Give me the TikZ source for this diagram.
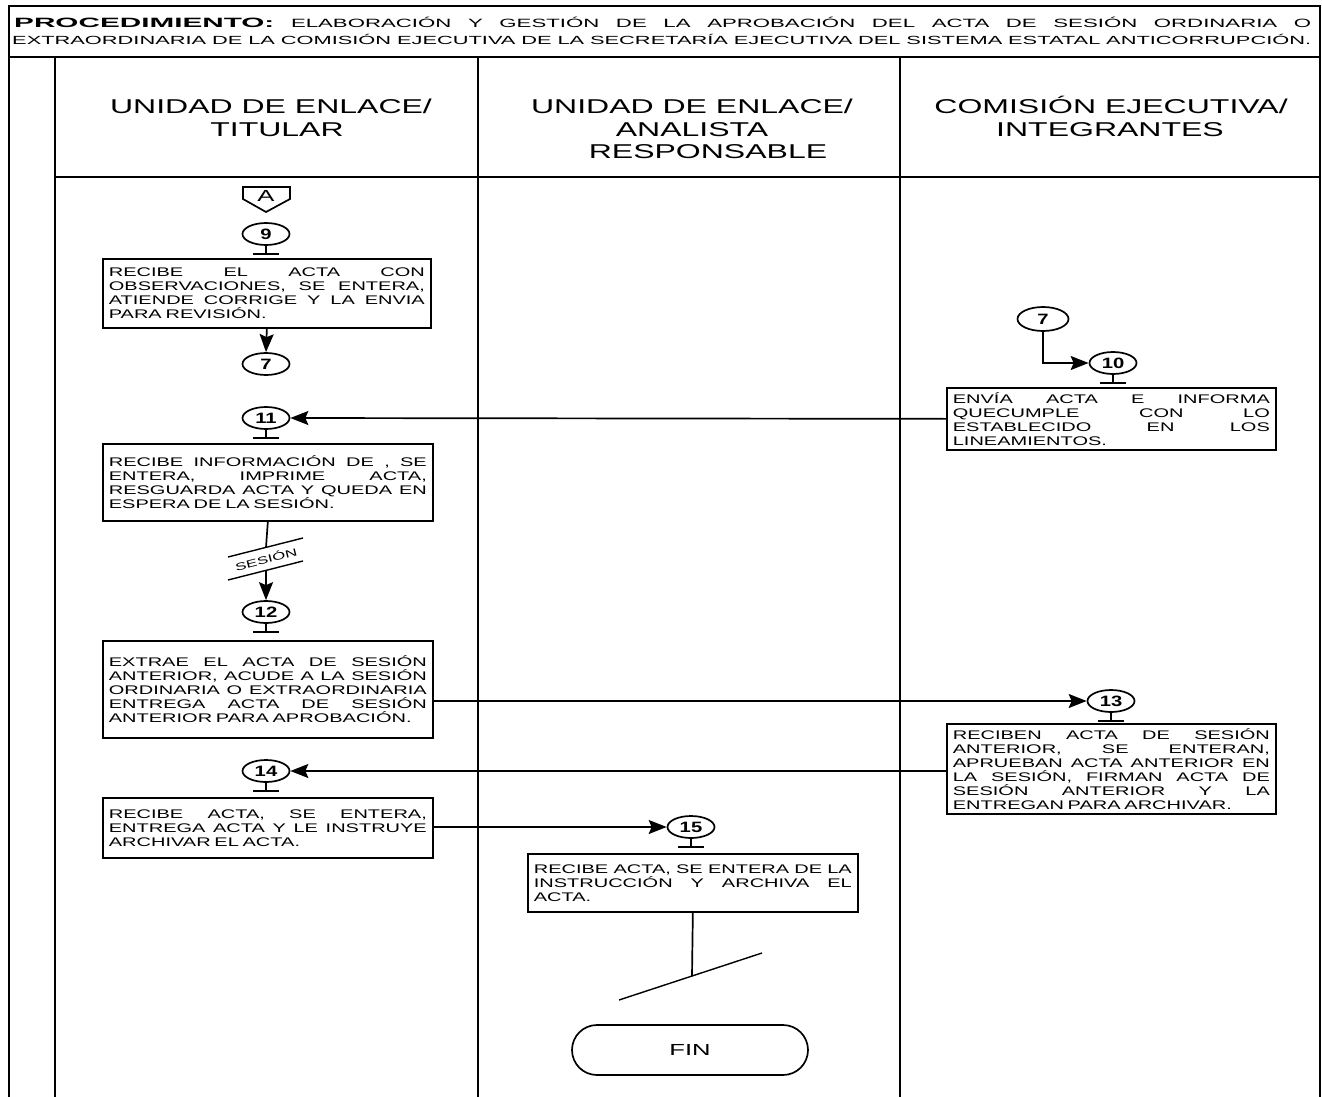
\documentclass[tikz,border=0pt]{standalone}
\usepackage{fontspec}
\setmainfont{Liberation Sans}
\newfontfamily\bxf[FakeStretch=1.6]{Liberation Sans}
\newfontfamily\cnf[FakeStretch=1.35]{Liberation Sans Bold}
\newfontfamily\ttlf[FakeStretch=1.85]{Liberation Sans}
\newfontfamily\ttlbf[FakeStretch=2.2]{Liberation Sans Bold}
\newfontfamily\hdrf[FakeStretch=1.6]{Liberation Sans}
\usetikzlibrary{shapes.geometric,arrows.meta}
\newcommand\jl[1]{\makebox[\linewidth][s]{#1}\\}
\newcommand\pbx[3]{\parbox[c][#2pt][c]{#1pt}{\fontsize{12.5}{14}\selectfont\bxf\spaceskip=.3em plus 20em minus .1em\relax #3}}
\tikzset{
  frameln/.style={line width=1.9pt},
  plain/.style={line width=1.7pt},
  conn/.style={line width=1.7pt,-{Stealth[length=18pt,width=14pt,inset=3pt]}},
  boxst/.style={draw,line width=1.7pt,inner xsep=6pt,inner ysep=0pt,anchor=north west},
  circ/.style={draw,ellipse,line width=1.7pt,minimum width=47pt,minimum height=22pt,inner sep=0pt,font=\fontsize{15}{15}\selectfont\cnf},
  hdr/.style={anchor=base,inner sep=0pt,font=\fontsize{20}{22}\selectfont\hdrf},
  tmark/.style={line width=1.7pt}
}
\newcommand\tmk[1]{\draw[tmark] (#1.south) -- ++(0,8) ++(-13,0) -- ++(26,0);}
\begin{document}
\begin{tikzpicture}[x=1pt,y=-1pt]
\useasboundingbox (0,0) rectangle (1322,1097);
\fill[white] (0,0) rectangle (1322,1097);
% frame
\draw[frameln] (9,1097) -- (9,6) -- (1320,6) -- (1320,1097);
\draw[frameln] (9,57) -- (1320,57);
\draw[frameln] (55,57) -- (55,1097);
\draw[frameln] (478,57) -- (478,1097);
\draw[frameln] (900,57) -- (900,1097);
\draw[frameln] (55,177) -- (1320,177);
% title
\node[anchor=base west,inner sep=0pt,font=\fontsize{12}{14}\selectfont\ttlf] (t1) at (14,28)
  {\makebox[1297pt][s]{{\fontsize{13.5}{14}\selectfont\ttlbf PROCEDIMIENTO:} ELABORACIÓN Y GESTIÓN DE LA APROBACIÓN DEL ACTA DE SESIÓN ORDINARIA O}};
\node[anchor=base west,inner sep=0pt,font=\fontsize{11.8}{14}\selectfont\ttlf] (t2) at (12,45)
  {\makebox[1299pt][s]{EXTRAORDINARIA DE LA COMISIÓN EJECUTIVA DE LA SECRETARÍA EJECUTIVA DEL SISTEMA ESTATAL ANTICORRUPCIÓN.}};
% headers
\node[hdr] (h1a) at (271,114) {UNIDAD DE ENLACE/};
\node[hdr] (h1b) at (277,136) {TITULAR};
\node[hdr] (h2a) at (692,114) {UNIDAD DE ENLACE/};
\node[hdr] (h2b) at (692,136) {ANALISTA};
\node[hdr] (h2c) at (708,158) {RESPONSABLE};
\node[hdr] (h3a) at (1111,114) {COMISIÓN EJECUTIVA/};
\node[hdr] (h3b) at (1110,136) {INTEGRANTES};
% off-page connector A
\draw[plain] (243,187) -- (290,187) -- (290,199) -- (266,212) -- (243,199) -- cycle;
\node[inner sep=0pt,font=\fontsize{16}{16}\selectfont\bxf] (offA) at (266,196) {A};
% circles
\node[circ] (c9) at (266,234) {9};
\node[circ] (c7a) at (266,364) {7};
\node[circ,minimum width=51pt,minimum height=24pt] (c7b) at (1043,319) {7};
\node[circ] (c10) at (1113,363) {10};
\node[circ] (c11) at (266,418) {11};
\node[circ] (c12) at (266,612) {12};
\node[circ] (c13) at (1111,701) {13};
\node[circ] (c14) at (266,771) {14};
\node[circ] (c15) at (691,827) {15};
\tmk{c9}\tmk{c10}\tmk{c11}\tmk{c12}\tmk{c13}\tmk{c14}\tmk{c15}
% boxes
\node[boxst] (b9) at (102,258) {\pbx{316}{69}{\jl{RECIBE EL ACTA CON}\jl{OBSERVACIONES, SE ENTERA,}\jl{ATIENDE CORRIGE Y LA ENVIA}PARA REVISIÓN.}};
\node[boxst] (b10) at (946,387) {\pbx{317}{62}{\jl{ENVÍA ACTA E INFORMA}\jl{QUECUMPLE CON LO}\jl{ESTABLECIDO EN LOS}LINEAMIENTOS.}};
\node[boxst] (b11) at (102,443) {\pbx{318}{77}{\jl{RECIBE INFORMACIÓN DE , SE}\jl{ENTERA, IMPRIME ACTA,}\jl{RESGUARDA ACTA Y QUEDA EN}ESPERA DE LA SESIÓN.}};
\node[boxst] (b12) at (102,640) {\pbx{318}{97}{\jl{EXTRAE EL ACTA DE SESIÓN}\jl{ANTERIOR, ACUDE A LA SESIÓN}\jl{ORDINARIA O EXTRAORDINARIA}\jl{ENTREGA ACTA DE SESIÓN}ANTERIOR PARA APROBACIÓN.}};
\node[boxst] (b13) at (946,723) {\pbx{317}{90}{\jl{RECIBEN ACTA DE SESIÓN}\jl{ANTERIOR, SE ENTERAN,}\jl{APRUEBAN ACTA ANTERIOR EN}\jl{LA SESIÓN, FIRMAN ACTA DE}\jl{SESIÓN ANTERIOR Y LA}ENTREGAN PARA ARCHIVAR.}};
\node[boxst] (b14) at (102,797) {\pbx{318}{60}{\jl{RECIBE ACTA, SE ENTERA,}\jl{ENTREGA ACTA Y LE INSTRUYE}ARCHIVAR EL ACTA.}};
\node[boxst] (b15) at (527,853) {\pbx{318}{58}{\jl{RECIBE ACTA, SE ENTERA DE LA}\jl{INSTRUCCIÓN Y ARCHIVA EL}ACTA.}};
% FIN
\node[draw,line width=1.7pt,rounded corners=25pt,minimum width=236pt,minimum height=50pt,inner sep=0pt,font=\fontsize{16}{16}\selectfont\bxf] (fin) at (690,1050) {FIN};
% connectors
\draw[conn] (b9.south) -- (c7a.north);
\draw[conn] (c7b.south) |- (c10.west);
\draw[conn] (b10.west) -- (c11.east);
\coordinate (s1) at (266,547.4);
\coordinate (s2) at (266,570.4);
\draw[plain] (b11.south) -- (s1);
\draw[conn] (s2) -- (c12.north);
\draw[line width=1.4pt] (228,557) -- (303,538);
\draw[line width=1.4pt] (228,580) -- (303,561);
\node[rotate=14,inner sep=0pt,font=\fontsize{10.5}{11}\selectfont\bxf] (ses) at (266,559) {SESIÓN};
\draw[conn] (b12.east |- c13.west) -- (c13.west);
\draw[conn] (b13.west |- c14.east) -- (c14.east);
\draw[conn] (b14.east |- c15.west) -- (c15.west);
\coordinate (endc) at (692,976);
\draw[plain] (b15.south) -- (endc);
\draw[line width=1.4pt] (619,1000) -- (762,953);
\end{tikzpicture}
\end{document}
